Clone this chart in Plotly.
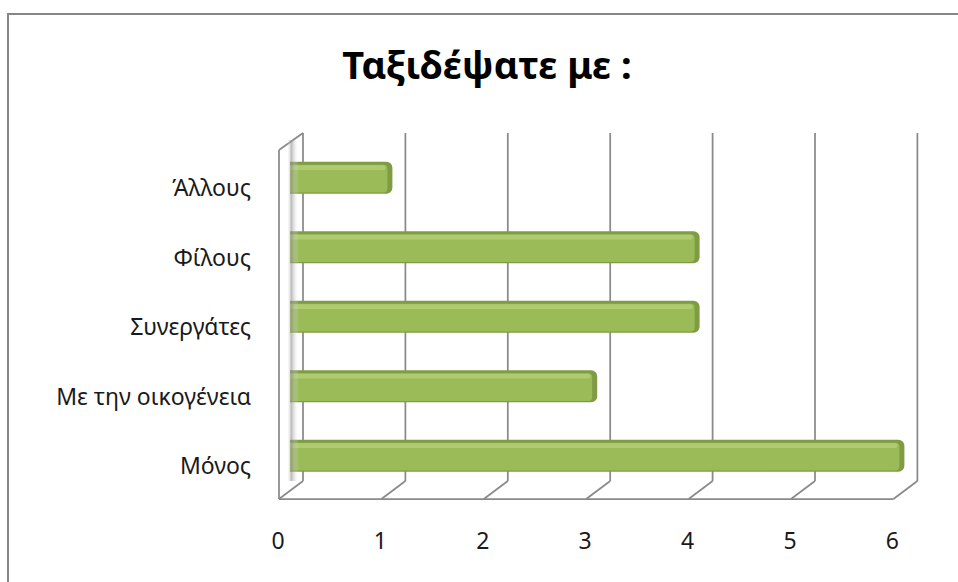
import plotly.graph_objects as go

# ---- data ----
categories = ["Μόνος", "Με την οικογένεια", "Συνεργάτες", "Φίλους", "Άλλους"]
values = [6, 3, 4, 4, 1]
x_ticks = [0, 1, 2, 3, 4, 5, 6]
x_tick_labels = ["0", "1", "2", "3", "4", "5", "6"]
title_text = "Ταξιδέψατε με :"

# ---- geometry (pixels) ----
W, H = 958, 582
PX0, UX = 290.0, 102.4      # pixel of x=0, pixels per unit
PY0, UY = 455.0, 69.5       # pixel of first category, pixels per category
L, R_, T, B_ = 262, 940, 122, 508
xr = [(L - PX0) / UX, (R_ - PX0) / UX]
yr = [(PY0 - B_) / UY, (PY0 - T) / UY]

def dx(px):  # pixel offset -> x data units
    return px / UX

def yd(py):  # absolute pixel -> y data
    return (PY0 - py) / UY

ypos = list(range(len(categories)))
back_off = dx(13)
front_off = dx(-11)
y_back_bot = yd(481)
y_front = yd(499)
y_top = yd(133)
y_wall_front_top = yd(150)

grid = "#8a8a8a"
shapes = []
for k in x_ticks:
    shapes.append(dict(type="line", xref="x", yref="y", layer="below",
                       x0=k + back_off, x1=k + back_off, y0=y_back_bot, y1=y_top,
                       line=dict(color=grid, width=1.75)))
    shapes.append(dict(type="line", xref="x", yref="y", layer="below",
                       x0=k + back_off, x1=k + front_off, y0=y_back_bot, y1=y_front,
                       line=dict(color=grid, width=1.75)))
# front floor edge
shapes.append(dict(type="line", xref="x", yref="y", layer="below",
                   x0=x_ticks[0] + front_off, x1=x_ticks[-1] + front_off, y0=y_front, y1=y_front,
                   line=dict(color=grid, width=1.75)))
# left wall front edge + top
shapes.append(dict(type="line", xref="x", yref="y", layer="below",
                   x0=front_off, x1=front_off, y0=y_front, y1=y_wall_front_top,
                   line=dict(color=grid, width=1.75)))
shapes.append(dict(type="line", xref="x", yref="y", layer="below",
                   x0=front_off, x1=back_off, y0=y_wall_front_top, y1=y_top,
                   line=dict(color=grid, width=1.75)))
# outer chart border
def pxp(px):
    return (px - L) / (R_ - L)
def pyp(py):
    return 1 - (py - T) / (B_ - T)
shapes.append(dict(type="rect", xref="paper", yref="paper", layer="above",
                   x0=pxp(8), x1=pxp(980), y0=pyp(14), y1=pyp(600),
                   line=dict(color="#868686", width=2), fillcolor="rgba(0,0,0,0)"))

fig = go.Figure()

# left wall shading
wall_x = [dx(-3), dx(9), dx(9), dx(-3)]
wall_y = [y_back_bot, y_back_bot, y_top - 0.1, y_top - 0.1]
fig.add_trace(go.Scatter(
    x=wall_x, y=wall_y, mode="lines", fill="toself", line=dict(width=0),
    fillgradient=dict(type="horizontal", start=dx(-3), stop=dx(9),
                      colorscale=[[0, "rgba(255,255,255,0)"], [0.35, "rgba(140,140,140,0.6)"],
                                  [1, "rgba(255,255,255,0)"]]),
    hoverinfo="skip", showlegend=False))

# bars: outer dark body
fig.add_trace(go.Bar(
    x=values, y=ypos, orientation="h", width=0.46, offset=-0.24,
    marker=dict(color="#7f9c45", cornerradius=6, line=dict(width=0)),
    hoverinfo="skip", showlegend=False))
# main face
fig.add_trace(go.Bar(
    x=[v - dx(5) for v in values], y=ypos, orientation="h", width=0.40, offset=-0.222,
    marker=dict(color="#9bbb59", cornerradius=4, line=dict(width=0)),
    hovertemplate="%{x}<extra></extra>", showlegend=False))
# highlight band
fig.add_trace(go.Bar(
    x=[v - dx(7) for v in values], y=ypos, orientation="h", width=0.07, offset=0.10,
    marker=dict(color="#aecb70", cornerradius=2, line=dict(width=0)),
    hoverinfo="skip", showlegend=False))

fig.update_layout(
    width=W, height=H,
    margin=dict(l=L, r=W - R_, t=T, b=H - B_, pad=0),
    paper_bgcolor="white", plot_bgcolor="white",
    barmode="overlay",
    font=dict(family="Noto Sans, DejaVu Sans, sans-serif", size=23, color="#1a1a1a"),
    title=dict(text=title_text, x=487 / W, xanchor="center", xref="container",
               y=1 - 66 / H, yanchor="middle", yref="container",
               font=dict(family="Noto Sans, DejaVu Sans, sans-serif", size=38,
                         color="black", weight="bold")),
    xaxis=dict(range=xr, tickvals=x_ticks, ticktext=x_tick_labels, showgrid=False,
               zeroline=False, showline=False, ticks="", ticklabelshift=-12,
               ticklabelstandoff=17, fixedrange=True),
    yaxis=dict(range=yr, tickvals=ypos, ticktext=categories, showgrid=False,
               zeroline=False, showline=False, ticks="", ticklabelshift=11,
               ticklabelstandoff=10, fixedrange=True),
    shapes=shapes,
)

fig.write_html("out.html", config={"displayModeBar": False},
               post_script="document.body.style.margin='0';document.body.style.overflow='hidden';")
